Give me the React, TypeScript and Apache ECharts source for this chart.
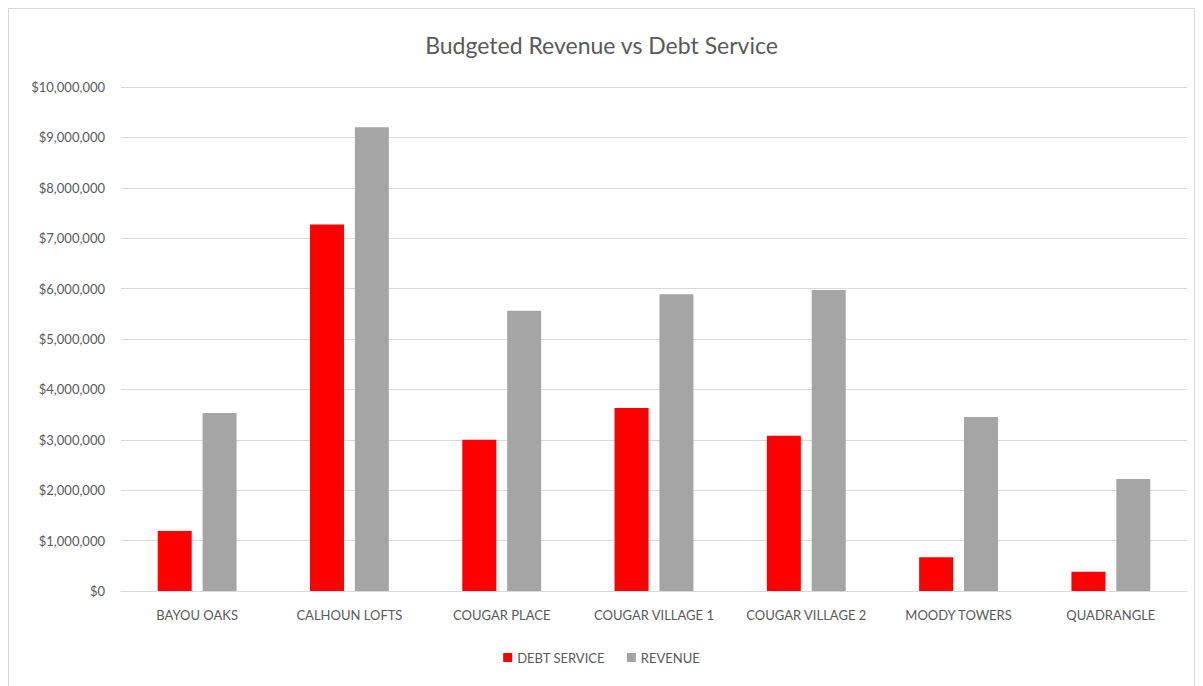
import React, { useEffect, useRef } from "react";
import * as echarts from "echarts";

const categories = [
  "BAYOU OAKS",
  "CALHOUN LOFTS",
  "COUGAR PLACE",
  "COUGAR VILLAGE 1",
  "COUGAR VILLAGE 2",
  "MOODY TOWERS",
  "QUADRANGLE",
];
const debtService = [1190000, 7270000, 3000000, 3630000, 3080000, 670000, 380000];
const revenue = [3530000, 9200000, 5560000, 5890000, 5970000, 3450000, 2220000];

const fmt = (v: number) => "$" + v.toLocaleString("en-US");

export default function App() {
  const ref = useRef<HTMLDivElement>(null);
  useEffect(() => {
    if (!ref.current) return;
    const chart = echarts.init(ref.current, null, { renderer: "svg" });
    const font = "Lato, 'Open Sans', sans-serif";
    chart.setOption({
      animation: false,
      backgroundColor: "#ffffff",
      title: {
        text: "Budgeted Revenue vs Debt Service",
        left: "center",
        top: 19,
        textStyle: { color: "#595959", fontSize: 23, fontWeight: "normal", fontFamily: font },
      },
      legend: {
        bottom: 20,
        left: "center",
        itemWidth: 9,
        itemHeight: 9,
        itemGap: 22,
        icon: "rect",
        textStyle: { color: "#595959", fontSize: 13, fontFamily: font },
        data: ["DEBT SERVICE", "REVENUE"],
      },
      grid: { left: 112, right: 7, top: 78, bottom: 98, containLabel: false },
      xAxis: {
        type: "category",
        data: categories,
        axisLine: { lineStyle: { color: "#d9d9d9", width: 1 } },
        axisTick: { show: false },
        axisLabel: { interval: 0, hideOverlap: false, color: "#595959", fontSize: 13, fontFamily: font, margin: 17 },
      },
      yAxis: {
        type: "value",
        min: 0,
        max: 10000000,
        interval: 1000000,
        axisLine: { show: false },
        axisTick: { show: false },
        splitLine: { lineStyle: { color: "#d9d9d9", width: 1 } },
        axisLabel: { color: "#595959", fontSize: 13, fontFamily: font, margin: 16, formatter: fmt },
      },
      series: [
        {
          name: "DEBT SERVICE",
          type: "bar",
          data: debtService,
          barWidth: 34,
          barGap: "32%",
          itemStyle: { color: "#ff0000" },
        },
        {
          name: "REVENUE",
          type: "bar",
          data: revenue,
          barWidth: 34,
          itemStyle: { color: "#a5a5a5" },
        },
      ],
    });
    return () => chart.dispose();
  }, []);
  return (
    <div
      style={{
        width: 1185,
        height: 680,
        border: "1px solid #d9d9d9",
        background: "#fff",
      }}
    >
      <div ref={ref} style={{ width: 1185, height: 680 }} />
    </div>
  );
}
